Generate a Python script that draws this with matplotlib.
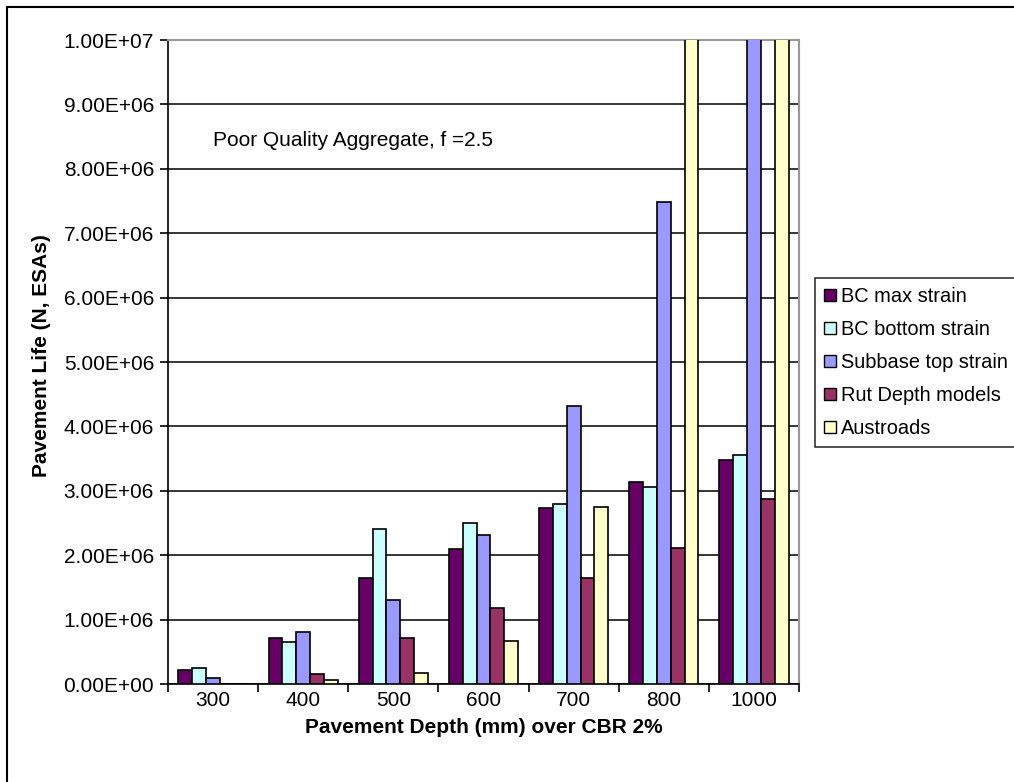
import matplotlib
matplotlib.use("Agg")
import matplotlib.pyplot as plt
import matplotlib.patches as mpatches
import numpy as np
from matplotlib.ticker import FuncFormatter, MultipleLocator

plt.rcParams['font.family'] = ['Liberation Sans', 'DejaVu Sans']

# pavement depths (mm) over CBR 2% subgrade
depths = ['300', '400', '500', '600', '700', '800', '1000']

series_names = ['BC max strain', 'BC bottom strain', 'Subbase top strain',
                'Rut Depth models', 'Austroads']
bc_max = [0.21e6, 0.72e6, 1.65e6, 2.09e6, 2.73e6, 3.14e6, 3.48e6]
bc_bottom = [0.25e6, 0.65e6, 2.40e6, 2.50e6, 2.80e6, 3.06e6, 3.55e6]
subbase_top = [0.09e6, 0.80e6, 1.30e6, 2.31e6, 4.32e6, 7.48e6, 1.6e7]
rut_depth = [0.0, 0.155e6, 0.72e6, 1.18e6, 1.65e6, 2.11e6, 2.87e6]
austroads = [0.0, 0.06e6, 0.17e6, 0.67e6, 2.75e6, 1.2e7, 2.2e7]

colors = ['#660066', '#CCFFFF', '#9999FF', '#993366', '#FFFFCC']
FS = 15

fig = plt.figure(figsize=(10.14, 7.82), dpi=100)
ax = fig.add_axes([168 / 1014, 1 - 684 / 782, (799 - 168) / 1014, (684 - 40) / 782])

x = np.arange(len(depths))
w = 1 / 6.5
for i, (vals, name, c) in enumerate(zip([bc_max, bc_bottom, subbase_top, rut_depth, austroads],
                                        series_names, colors)):
    ax.bar(x + (i - 2) * w, vals, width=w, color=c, edgecolor='black',
           linewidth=1.2, label=name, zorder=3)

ax.set_xlim(-0.5, len(depths) - 0.5)
ax.set_ylim(0, 1e7)
ax.yaxis.set_major_locator(MultipleLocator(1e6))
ax.yaxis.set_major_formatter(FuncFormatter(lambda v, p: f'{v:.2E}'))
ax.grid(axis='y', color='black', linewidth=1.1, zorder=0)

# ticks between categories, labels at centres
ax.set_xticks(np.arange(len(depths) + 1) - 0.5)
ax.set_xticklabels([])
ax.set_xticks(x, minor=True)
ax.set_xticklabels(depths, minor=True)
ax.tick_params(axis='x', which='major', length=6, width=1.2, color='black')
ax.tick_params(axis='x', which='minor', length=0, pad=5, labelsize=FS)
ax.tick_params(axis='y', length=6, width=1.2, labelsize=FS, pad=4)

for s in ['left', 'bottom']:
    ax.spines[s].set_linewidth(1.2)
    ax.spines[s].set_color('black')
for s in ['top', 'right']:
    ax.spines[s].set_linewidth(1.5)
    ax.spines[s].set_color('#999999')

ax.set_xlabel('Pavement Depth (mm) over CBR 2%', fontsize=FS, fontweight='bold')
ax.set_ylabel('Pavement Life (N, ESAs)', fontsize=FS, fontweight='bold')
ax.xaxis.set_label_coords(0.5, -(718 - 684) / 644)
ax.yaxis.set_label_coords(-(168 - 51) / 631, 0.51)

ax.text(213 / 1014, 1 - 141 / 782, 'Poor Quality Aggregate, f =2.5', transform=fig.transFigure,
        fontsize=FS, va='center', ha='left')

leg = fig.legend(loc='upper left', bbox_to_anchor=(815 / 1014, 1 - 278 / 782),
                 fontsize=14.4, frameon=True, fancybox=False, edgecolor='black',
                 handlelength=0.6, handleheight=0.6, handletextpad=0.25,
                 labelspacing=0.7, borderpad=0.45, borderaxespad=0)
leg.get_frame().set_linewidth(1.2)
for h in leg.legend_handles:
    h.set_linewidth(1.0)

# outer chart border
fig.patches.append(mpatches.Rectangle((7 / 1014, -0.1), 1.2, 1.1 - 7 / 782,
                                      transform=fig.transFigure, fill=False,
                                      edgecolor='black', linewidth=1.5))

fig.savefig('out.png', dpi=100)
